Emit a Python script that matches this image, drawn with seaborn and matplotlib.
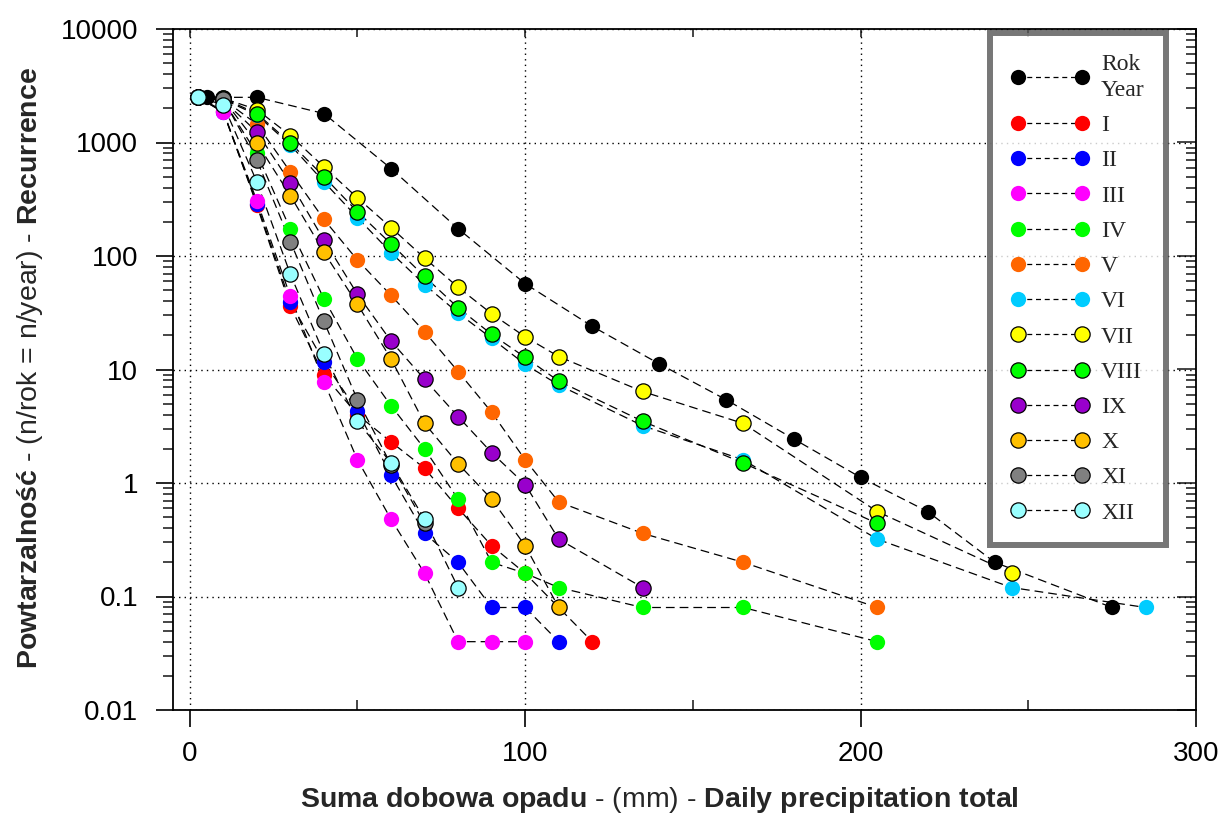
import numpy as np
import pandas as pd
import matplotlib
matplotlib.use("Agg")
import matplotlib.pyplot as plt
import seaborn as sns
from matplotlib.lines import Line2D
from matplotlib.ticker import FixedLocator, FuncFormatter, LogLocator, NullFormatter, MultipleLocator

# ---------------- data ----------------
series_names = ["Rok\nYear", "I", "II", "III", "IV", "V", "VI", "VII", "VIII", "IX", "X", "XI", "XII"]

x_year = [5, 20, 40, 60, 80, 100, 120, 140, 160, 180, 200, 220, 240, 275]
y_year = [2500, 2500, 1800, 590, 174, 57, 24, 11.2, 5.4, 2.45, 1.12, 0.56, 0.2, 0.08]

x_I = [2.5, 10, 20, 30, 40, 50, 60, 70, 80, 90, 100, 110, 120]
y_I = [2500, 1900, 280, 36, 8.9, 4.0, 2.3, 1.35, 0.6, 0.28, 0.16, 0.08, 0.04]

x_II = [2.5, 10, 20, 30, 40, 50, 60, 70, 80, 90, 100, 110]
y_II = [2500, 1850, 290, 39, 11.7, 4.3, 1.17, 0.36, 0.2, 0.08, 0.08, 0.04]

x_III = [2.5, 10, 20, 30, 40, 50, 60, 70, 80, 90, 100]
y_III = [2500, 1850, 307, 44, 7.8, 1.6, 0.48, 0.16, 0.04, 0.04, 0.04]

x_IV = [2.5, 10, 20, 30, 40, 50, 60, 70, 80, 90, 100, 110, 135, 165, 205]
y_IV = [2500, 2350, 800, 172, 42, 12.4, 4.8, 2.0, 0.72, 0.2, 0.16, 0.12, 0.08, 0.08, 0.04]

x_V = [2.5, 10, 20, 30, 40, 50, 60, 70, 80, 90, 100, 110, 135, 165, 205]
y_V = [2500, 2400, 1450, 550, 210, 92, 45, 21.5, 9.6, 4.2, 1.6, 0.68, 0.36, 0.2, 0.08]

x_VI = [2.5, 10, 20, 30, 40, 50, 60, 70, 80, 90, 100, 110, 135, 165, 205, 245, 285]
y_VI = [2500, 2400, 1750, 950, 450, 218, 107, 56, 31.5, 18.8, 11.1, 7.3, 3.2, 1.6, 0.32, 0.12, 0.08]

x_VII = [2.5, 10, 20, 30, 40, 50, 60, 70, 80, 90, 100, 110, 135, 165, 205, 245]
y_VII = [2500, 2450, 1950, 1150, 610, 325, 178, 96, 53, 31, 19.4, 13, 6.4, 3.35, 0.56, 0.16]

x_VIII = [2.5, 10, 20, 30, 40, 50, 60, 70, 80, 90, 100, 110, 135, 165, 205]
y_VIII = [2500, 2450, 1800, 990, 500, 245, 128, 66, 35, 20.4, 12.8, 7.9, 3.5, 1.5, 0.44]

x_IX = [2.5, 10, 20, 30, 40, 50, 60, 70, 80, 90, 100, 110, 135]
y_IX = [2500, 2350, 1240, 440, 138, 46, 17.8, 8.2, 3.85, 1.85, 0.97, 0.32, 0.12]

x_X = [2.5, 10, 20, 30, 40, 50, 60, 70, 80, 90, 100, 110]
y_X = [2500, 2400, 990, 340, 108, 37.5, 12.4, 3.35, 1.48, 0.72, 0.28, 0.08]

x_XI = [2.5, 10, 20, 30, 40, 50, 60, 70]
y_XI = [2500, 2400, 700, 134, 26.5, 5.4, 1.45, 0.44]

x_XII = [2.5, 10, 20, 30, 40, 50, 60, 70, 80]
y_XII = [2500, 2150, 450, 69, 13.8, 3.5, 1.5, 0.48, 0.12]

y_ticks = [0.01, 0.1, 1, 10, 100, 1000, 10000]
x_ticks = [0, 100, 200, 300]

# ---------------- styles ----------------
face_colors = ["#000000", "#FF0000", "#0000FF", "#FF00FF", "#00FF00", "#FF6600", "#00CCFF",
               "#FFFF00", "#00FF00", "#9900CC", "#FFC000", "#808080", "#99FFFF"]
has_edge = [False, False, False, False, False, False, False, True, True, True, True, True, True]

xs = [x_year, x_I, x_II, x_III, x_IV, x_V, x_VI, x_VII, x_VIII, x_IX, x_X, x_XI, x_XII]
ys = [y_year, y_I, y_II, y_III, y_IV, y_V, y_VI, y_VII, y_VIII, y_IX, y_X, y_XI, y_XII]

frames = []
for i, (name, xv, yv) in enumerate(zip(series_names, xs, ys)):
    frames.append(pd.DataFrame({"x": xv, "y": yv, "series": name, "order": i}))
df = pd.concat(frames, ignore_index=True)

sns.set_theme(style="white")
plt.rcParams["font.family"] = ["Liberation Sans", "DejaVu Sans"]
plt.rcParams["mathtext.fontset"] = "custom"
plt.rcParams["mathtext.rm"] = "Liberation Sans"
plt.rcParams["mathtext.bf"] = "Liberation Sans:bold"
plt.rcParams["mathtext.it"] = "Liberation Sans:italic"

W, H = 1221, 815
fig = plt.figure(figsize=(W / 100, H / 100), dpi=100)
L, R, T, B = 173, 1196, 29, 710
ax = fig.add_axes([L / W, 1 - B / H, (R - L) / W, (B - T) / H])

ms = 11
for i, name in enumerate(series_names):
    sub = df[df["series"] == name]
    sns.lineplot(data=sub, x="x", y="y", ax=ax, color="black", linewidth=0.9,
                 linestyle=(0, (7, 4)), estimator=None, sort=False, legend=False, zorder=2)
for i, name in enumerate(series_names):
    sub = df[df["series"] == name]
    ec = "black" if has_edge[i] else face_colors[i]
    sns.scatterplot(data=sub, x="x", y="y", ax=ax, color=face_colors[i], edgecolor=ec,
                    linewidth=0.9 if has_edge[i] else 0, s=ms ** 2, legend=False,
                    zorder=3 + i)

ax.set_yscale("log")
ax.set_xlim(-5, 300)
ax.set_ylim(0.01, 10000)
ax.set_xlabel("")
ax.set_ylabel("")

ax.xaxis.set_major_locator(FixedLocator(x_ticks))
ax.yaxis.set_major_locator(FixedLocator(y_ticks))
ax.yaxis.set_major_formatter(FuncFormatter(lambda v, p: "%g" % v))
ax.yaxis.set_minor_locator(LogLocator(base=10, subs=np.arange(2, 10)))
ax.yaxis.set_minor_formatter(NullFormatter())
ax.xaxis.set_minor_locator(MultipleLocator(50))

ax.grid(which="major", axis="both", color="black", linestyle=(0, (1, 3)), linewidth=1.0)
ax.tick_params(axis="y", which="major", direction="out", length=12, width=1.2,
               left=True, right=False, labelsize=20, pad=13, colors="black")
ax.tick_params(axis="y", which="minor", direction="out", length=7, width=1.2,
               left=True, right=False)
ax.tick_params(axis="x", which="major", direction="out", length=12, width=1.2,
               bottom=True, top=False, labelsize=20, pad=10, colors="black")
ax.tick_params(axis="x", which="minor", direction="in", length=7, width=1.2,
               bottom=True, top=False)
for sp in ax.spines.values():
    sp.set_color("black")
    sp.set_linewidth(1.3)
    sp.set_visible(True)

# right axis with inward ticks
ax2 = ax.twinx()
ax2.set_yscale("log")
ax2.set_ylim(0.01, 10000)
ax2.yaxis.set_major_locator(FixedLocator(y_ticks))
ax2.yaxis.set_minor_locator(LogLocator(base=10, subs=np.arange(2, 10)))
ax2.yaxis.set_major_formatter(NullFormatter())
ax2.yaxis.set_minor_formatter(NullFormatter())
ax2.tick_params(axis="y", which="major", direction="in", length=14, width=1.2, right=True, left=False)
ax2.tick_params(axis="y", which="minor", direction="in", length=7, width=1.2, right=True, left=False)
ax2.grid(False)
for sp in ax2.spines.values():
    sp.set_visible(False)

# top ticks inward
ax3 = ax.twiny()
ax3.set_xlim(-5, 300)
ax3.xaxis.set_major_locator(FixedLocator(x_ticks))
ax3.xaxis.set_minor_locator(MultipleLocator(50))
ax3.xaxis.set_major_formatter(NullFormatter())
ax3.tick_params(axis="x", which="both", direction="in", length=6, width=1.2, top=True, bottom=False)
ax3.grid(False)
for sp in ax3.spines.values():
    sp.set_visible(False)

# legend
handles = []
for i, name in enumerate(series_names):
    ec = "black" if has_edge[i] else face_colors[i]
    handles.append(Line2D([0], [0], color="black", linewidth=0.9, linestyle=(0, (4, 3)),
                          marker="o", markersize=ms, markerfacecolor=face_colors[i],
                          markeredgecolor=ec, markeredgewidth=0.9 if has_edge[i] else 0))
leg = ax.legend(handles, series_names, loc="upper right",
                bbox_to_anchor=((1166 - L) / (R - L), 1 - (33 - T) / (B - T)),
                borderaxespad=0, numpoints=2, handlelength=3.3, handletextpad=0.5,
                labelspacing=0.58, borderpad=0.9,
                prop={"family": "Liberation Serif", "size": 17},
                frameon=True, fancybox=False)
for t in leg.get_texts():
    t.set_linespacing(1.3)
leg.get_frame().set_edgecolor("#555555")
leg.get_frame().set_linewidth(4.3)
leg.set_zorder(20)
ax.set_zorder(3)
ax.patch.set_alpha(0)

# axis labels with mixed weight
fig.text(659 / W, 1 - 800 / H,
         r"$\mathbf{Suma\ dobowa\ opadu}$ - (mm) - $\mathbf{Daily\ precipitation\ total}$",
         ha="center", va="center", fontsize=20.5)
fig.text(30 / W, 1 - 368 / H,
         r"$\mathbf{Powtarzalność}$ - (n/rok = n/year) - $\mathbf{Recurrence}$",
         ha="center", va="center", rotation=90, fontsize=20.5)

fig.savefig("out.png", dpi=100)
